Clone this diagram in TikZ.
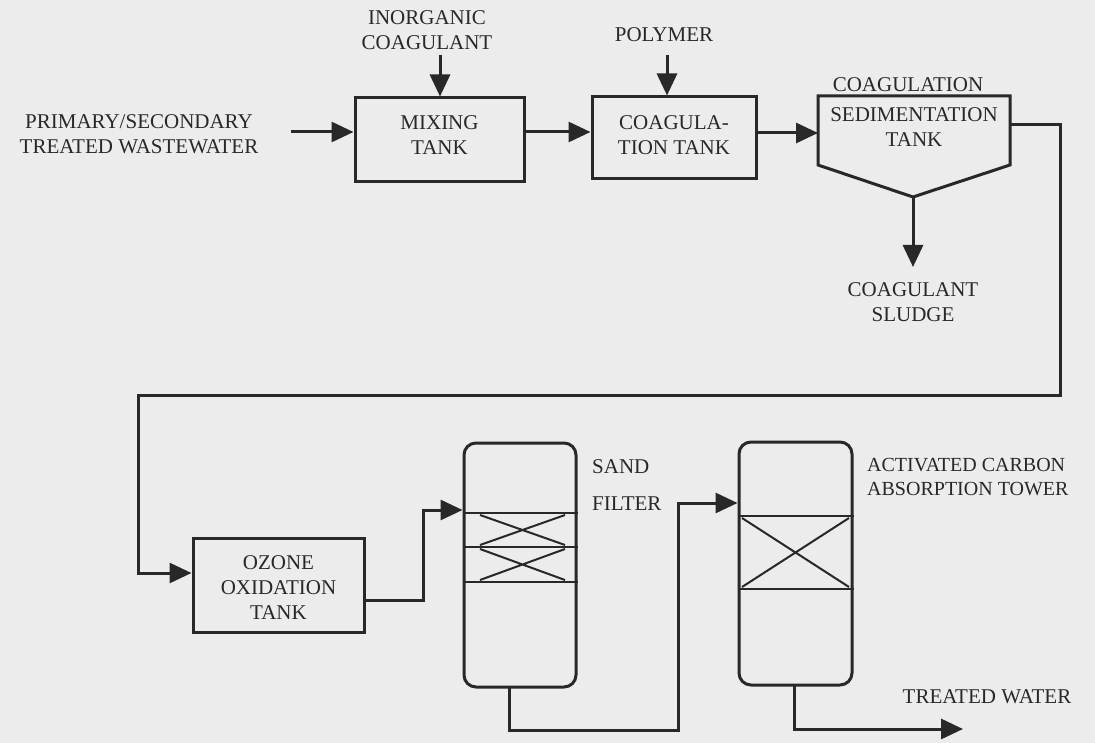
\documentclass[tikz,border=0pt]{standalone}
\usepackage{fontspec}
\setmainfont{Liberation Serif}
\usetikzlibrary{arrows.meta}
\definecolor{bg}{RGB}{236,236,236}
\definecolor{ink}{RGB}{40,40,40}
\definecolor{txt}{RGB}{40,40,40}
\begin{document}
\begin{tikzpicture}[x=1pt,y=-1pt,
  lbl/.style={text=txt,font=\fontsize{21}{25}\selectfont,align=center,inner sep=0pt},
  box/.style={draw=ink,line width=3pt,minimum width=#1,inner sep=0pt},
  flow/.style={draw=ink,line width=3pt},
  arr/.style={flow,-{Triangle[length=22pt,width=20pt]}},
  tower/.style={draw=ink,line width=3pt,rounded corners=12pt},
  pack/.style={draw=ink,line width=2pt}]
\fill[bg] (0,0) rectangle (1095,743);
\useasboundingbox (0,0) rectangle (1095,743);

% labels
\node[lbl] (src) at (139,134) {PRIMARY/SECONDARY\\TREATED WASTEWATER};
\node[lbl] (inorg) at (427,30) {INORGANIC\\COAGULANT};
\node[lbl] (poly) at (664,35) {POLYMER};
\node[lbl] (coagl) at (908,85) {COAGULATION};
\node[lbl] (sludge) at (913,302) {COAGULANT\\SLUDGE};
\node[lbl,align=left,anchor=west,font=\fontsize{21}{37}\selectfont] (sand) at (592,485) {SAND\\FILTER};
\node[lbl,align=left,anchor=west,font=\fontsize{20}{24}\selectfont] (acl) at (867,477) {ACTIVATED CARBON\\ABSORPTION TOWER};
\node[lbl] (tw) at (987,697) {TREATED WATER};

% boxes
\node[box=169pt,minimum height=84pt] (mix) at (439.5,140) {};
\node[lbl] at (439.5,135.5) {MIXING\\TANK};
\node[box=164pt,minimum height=82pt] (coag) at (674,138) {};
\node[lbl] at (674,135) {COAGULA-\\TION TANK};
\node[box=171pt,minimum height=94pt] (ozone) at (278.5,585) {};
\node[lbl] at (278.5,587.5) {OZONE\\OXIDATION\\TANK};

% sedimentation tank
\draw[flow,line join=miter] (818,165) -- (818,96) -- (1010,96) -- (1010,165) -- (913,197) -- cycle;
\node[lbl] (sed) at (914,127.5) {SEDIMENTATION\\TANK};
\coordinate (sedin) at (818,133);
\coordinate (sedout) at (1010,125);
\coordinate (sedbot) at (913,197);

% sand filter
\node[tower,minimum width=112pt,minimum height=244pt,inner sep=0pt] (sf) at (520,565) {};
\draw[pack] (sf.west |- 0,513) -- (sf.east |- 0,513);
\draw[pack] (sf.west |- 0,547) -- (sf.east |- 0,547);
\draw[pack] (sf.west |- 0,582) -- (sf.east |- 0,582);
\draw[pack] (480,515) -- (565,545) (480,545) -- (565,515);
\draw[pack] (480,549) -- (565,580) (480,580) -- (565,549);

% carbon tower
\node[tower,minimum width=113pt,minimum height=243pt,inner sep=0pt] (ct) at (795.5,563.5) {};
\draw[pack] (ct.west |- 0,516) -- (ct.east |- 0,516);
\draw[pack] (ct.west |- 0,589) -- (ct.east |- 0,589);
\draw[pack] (742,518) -- (849,587) (742,587) -- (849,518);

% connectors
\coordinate (a1) at (291,132);
\coordinate (inorgend) at (440,55);
\coordinate (polyend) at (667,55);
\draw[arr] (a1) -- (a1 -| mix.west);
\draw[arr] (inorgend) -- (inorgend |- mix.north);
\draw[arr] (mix.east |- 0,132) -- (coag.west |- 0,132);
\draw[arr] (polyend) -- (polyend |- coag.north);
\draw[arr] (coag.east |- sedin) -- (sedin);
\draw[arr] (sedbot) -- (913,267);
\draw[arr] (sedout) -- (1060,125) -- (1060,395) -- (138,395) -- (138,573) -- (ozone.west |- 0,573);
\draw[arr] (ozone.east |- 0,600) -- (423,600) -- (423,510) -- (sf.west |- 0,510);
\draw[arr] (509,686) -- (509,730) -- (678,730) -- (678,503) -- (ct.west |- 0,503);
\coordinate (twend) at (963,729);
\draw[arr] (794,684) -- (794,729) -- (twend);
\end{tikzpicture}
\end{document}
